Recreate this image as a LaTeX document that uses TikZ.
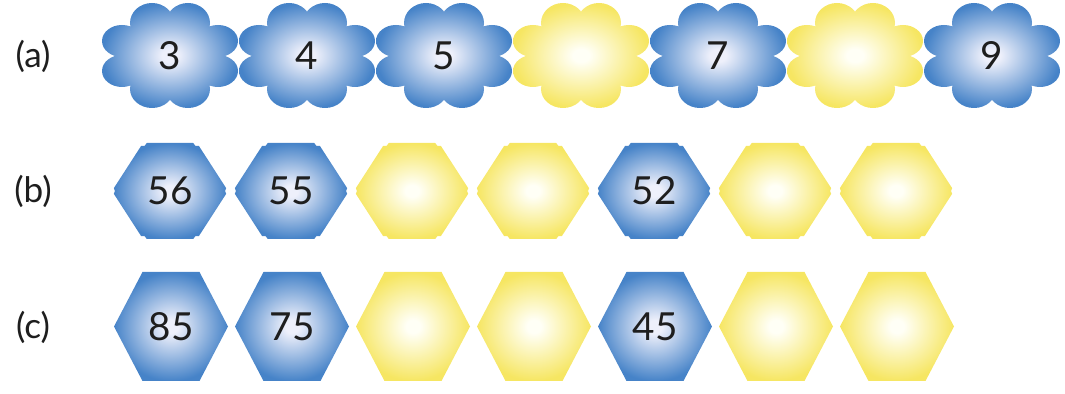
\documentclass[tikz,border=0pt]{standalone}
\usepackage{fontspec}
\setmainfont{Lato}
\usetikzlibrary{calc}

% colours of the two kinds of tiles
\definecolor{blueedge}{RGB}{70,131,200}
\definecolor{bluecore}{RGB}{238,240,251}
\definecolor{ylwedge}{RGB}{246,230,98}
\definecolor{ylwcore}{RGB}{255,255,246}
\definecolor{txt}{RGB}{30,30,30}

\pgfdeclareradialshading{glowblue}{\pgfpoint{0bp}{0bp}}{color(0bp)=(bluecore); color(3bp)=(bluecore); color(25bp)=(blueedge); color(50bp)=(blueedge)}
\pgfdeclareradialshading{glowyellow}{\pgfpoint{0bp}{0bp}}{color(0bp)=(ylwcore); color(3bp)=(ylwcore); color(25bp)=(ylwedge); color(50bp)=(ylwedge)}

\begin{document}
\begin{tikzpicture}[
  x=0.02cm, y=-0.02cm,
  % Estilos de textos
  digit/.style={font=\fontsize{22}{24}\selectfont, text=txt, inner sep=0pt},
  rowlabel/.style={font=\fontsize{20}{22}\selectfont, text=txt, inner sep=0pt},
  % Estilos de fichas
  flower/.pic={
    \shade[shading=#1]
      (-18,-33) ellipse [x radius=22, y radius=20]
      (18,-33) ellipse [x radius=22, y radius=20]
      (-18,33) ellipse [x radius=22, y radius=19]
      (18,33) ellipse [x radius=22, y radius=19]
      (-48,-15) ellipse [x radius=20, y radius=16]
      (-48,15) ellipse [x radius=20, y radius=16]
      (48,-15) ellipse [x radius=20, y radius=16]
      (48,15) ellipse [x radius=20, y radius=16]
      (0,0) ellipse [x radius=42, y radius=32];
  },
  hexa/.pic={
    \shade[shading=#1] (57,0) -- (28.5,-54.5) -- (-28.5,-54.5) -- (-57,0)
      -- (-28.5,54.5) -- (28.5,54.5) -- cycle;
  },
  notchhex/.pic={
    \coordinate (hc) at (0,0);
    \coordinate (h1) at (58,0);
    \coordinate (h2) at (27,-48);
    \coordinate (h3) at (-27,-48);
    \coordinate (h4) at (-58,0);
    \coordinate (h5) at (-27,48);
    \coordinate (h6) at (27,48);
    \shade[shading=#1]
      ($(h1)!0.06!(h6)$) -- ($(h1)!0.05!(hc)$) -- ($(h1)!0.06!(h2)$)
      -- ($(h2)!0.06!(h1)$) -- ($(h2)!0.06!(hc)$) -- ($(h2)!0.07!(h3)$)
      -- ($(h3)!0.07!(h2)$) -- ($(h3)!0.06!(hc)$) -- ($(h3)!0.06!(h4)$)
      -- ($(h4)!0.06!(h3)$) -- ($(h4)!0.05!(hc)$) -- ($(h4)!0.06!(h5)$)
      -- ($(h5)!0.06!(h4)$) -- ($(h5)!0.06!(hc)$) -- ($(h5)!0.07!(h6)$)
      -- ($(h6)!0.07!(h5)$) -- ($(h6)!0.06!(hc)$) -- ($(h6)!0.06!(h1)$)
      -- cycle;
  }
]
  \useasboundingbox (0,0) rectangle (1065,394);

  % ==========================================
  % ROW (a): FLOWERS
  % ==========================================
  \node[rowlabel] (la) at (33,56) {(a)};
  \foreach \num/\tone [count=\i from 0] in {3/glowblue, 4/glowblue, 5/glowblue, /glowyellow, 7/glowblue, /glowyellow, 9/glowblue} {
    \pic at ({170+137*\i},56) {flower=\tone};
    \node[digit] (a\i) at ({170+137*\i},56) {\num};
  }

  % ==========================================
  % ROW (b): NOTCHED HEXAGONS
  % ==========================================
  \node[rowlabel] (lb) at (33,191) {(b)};
  \foreach \num/\tone [count=\i from 0] in {56/glowblue, 55/glowblue, /glowyellow, /glowyellow, 52/glowblue, /glowyellow, /glowyellow} {
    \pic at ({170+121*\i},191) {notchhex=\tone};
    \node[digit] (b\i) at ({170+121*\i},191) {\num};
  }

  % ==========================================
  % ROW (c): HEXAGONS
  % ==========================================
  \node[rowlabel] (lc) at (33,327) {(c)};
  \foreach \num/\tone [count=\i from 0] in {85/glowblue, 75/glowblue, /glowyellow, /glowyellow, 45/glowblue, /glowyellow, /glowyellow} {
    \pic at ({171+121*\i},326.5) {hexa=\tone};
    \node[digit] (c\i) at ({171+121*\i},326.5) {\num};
  }

\end{tikzpicture}
\end{document}
